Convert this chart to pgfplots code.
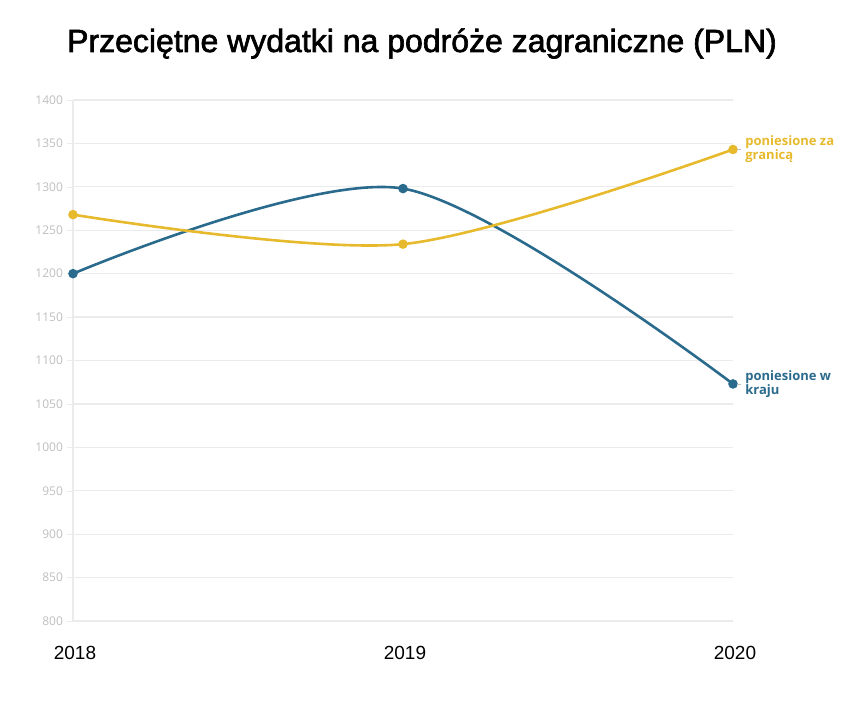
\documentclass[border=0pt]{standalone}
\usepackage{fontspec}
\setmainfont{Liberation Sans}
\newfontfamily\opensans{Open Sans}
\newfontfamily\titlefont[FakeBold=2]{Liberation Sans}
\usepackage{pgfplots}
\pgfplotsset{compat=1.18}
\definecolor{blueline}{RGB}{42,106,140}
\definecolor{yellowline}{RGB}{231,185,45}
\definecolor{gridgray}{RGB}{235,235,235}
\definecolor{ticklab}{RGB}{190,190,190}

\begin{document}
\begin{tikzpicture}
\path[use as bounding box] (-36.5pt,-40pt) rectangle (389.5pt,310.5pt);
\begin{axis}[
  scale only axis, width=330pt, height=260.5pt,
  xmin=0, xmax=2, ymin=800, ymax=1400,
  xtick={0,1,2}, xticklabels={2018,2019,2020},
  ytick={800,850,...,1400},
  axis lines=left, axis line style={-, draw=gridgray, line width=0.6pt},
  ymajorgrids, grid style={draw=gridgray, line width=0.6pt},
  tick align=outside, major tick length=3pt,
  ytick style={draw=gridgray}, xtick style={draw=none},
  /pgf/number format/assume math mode=true,
  /pgf/number format/1000 sep={},
  yticklabel style={font=\opensans\fontsize{6}{7}\selectfont, text=ticklab, xshift=1.5pt},
  xticklabel style={font=\fontsize{9.5}{11}\selectfont, yshift=-6pt, xshift=1pt},
  clip=false,
]
% poniesione w kraju
\addplot[blueline, line width=1.3pt, smooth, mark=*, mark size=1.7pt,
  mark options={fill=blueline, draw=blueline}] coordinates {
  (0,1200) (1,1298) (2,1073)
};
% poniesione za granica
\addplot[yellowline, line width=1.3pt, smooth, mark=*, mark size=1.7pt,
  mark options={fill=yellowline, draw=yellowline}] coordinates {
  (0,1268) (1,1234) (2,1343)
};

\coordinate (py) at (axis cs:2,1343);
\coordinate (pb) at (axis cs:2,1073);
\end{axis}
\draw[gray!50, line width=0.4pt] ([xshift=2pt]py) -- ([xshift=4pt]py);
\draw[gray!50, line width=0.4pt] ([xshift=2pt]pb) -- ([xshift=4pt]pb);
\node[anchor=west, inner sep=0pt, xshift=6pt, align=left, text=yellowline,
  font=\opensans\bfseries\fontsize{6.5}{7}\selectfont] at (py)
  {poniesione za\\granicą};
\node[anchor=west, inner sep=0pt, xshift=6pt, align=left, text=blueline,
  font=\opensans\bfseries\fontsize{6.5}{7}\selectfont] at (pb)
  {poniesione w\\kraju};
\node[anchor=base, font=\titlefont\fontsize{16}{19}\selectfont] at (174.5pt,284.5pt)
  {Przeciętne wydatki na podróże zagraniczne (PLN)};
\end{tikzpicture}
\end{document}
